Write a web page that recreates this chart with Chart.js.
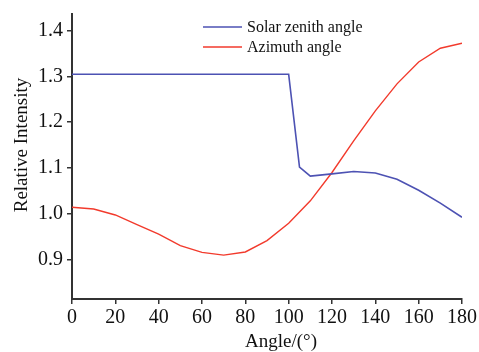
<!DOCTYPE html>
<html>
<head>
<meta charset="utf-8">
<script src="https://cdn.jsdelivr.net/npm/chart.js@4"></script>
<style>
  html, body { margin: 0; padding: 0; background: #fff; }
  #wrap { width: 479px; height: 352px; }
</style>
</head>
<body>
<div id="wrap"><canvas id="myChart" width="479" height="352"></canvas></div>
<script>
// datos
const angles = [0, 10, 20, 30, 40, 50, 60, 70, 80, 90, 100, 105, 110, 120, 130, 140, 150, 160, 170, 180];
const zenith = [1.305, 1.305, 1.305, 1.305, 1.305, 1.305, 1.305, 1.305, 1.305, 1.305, 1.305, 1.102, 1.082, 1.087, 1.092, 1.089, 1.075, 1.051, 1.023, 0.992];
const azimuthAngles = [0, 10, 20, 30, 40, 50, 60, 70, 80, 90, 100, 110, 120, 130, 140, 150, 160, 170, 180];
const azimuth = [1.014, 1.010, 0.997, 0.976, 0.955, 0.930, 0.915, 0.909, 0.916, 0.941, 0.979, 1.028, 1.090, 1.159, 1.225, 1.284, 1.332, 1.362, 1.373];
const yTicks = [0.9, 1.0, 1.1, 1.2, 1.3, 1.4];
const xTicks = [0, 20, 40, 60, 80, 100, 120, 140, 160, 180];
const seriesNames = ['Solar zenith angle', 'Azimuth angle'];
const xTitle = 'Angle/(°)';
const yTitle = 'Relative Intensity';

const font = 'Liberation Serif, Times New Roman, serif';
const axisColor = '#333';

const data = {
    datasets: [{
        label: seriesNames[0],
        data: angles.map((a, i) => ({x: a, y: zenith[i]})),
        borderColor: '#4d52b3',
        borderWidth: 1.6,
        pointRadius: 0,
        tension: 0
    }, {
        label: seriesNames[1],
        data: azimuthAngles.map((a, i) => ({x: a, y: azimuth[i]})),
        borderColor: '#f23a2c',
        borderWidth: 1.4,
        pointRadius: 0,
        tension: 0
    }]
};

// leyenda y titulos de ejes dibujados a mano
const extras = {
    id: 'extras',
    afterDraw(chart) {
        const ctx = chart.ctx;
        ctx.save();
        ctx.font = '16px ' + font;
        ctx.textBaseline = 'middle';
        chart.data.datasets.forEach((ds, i) => {
            const y = 27 + i * 20;
            ctx.strokeStyle = ds.borderColor;
            ctx.lineWidth = 1.5;
            ctx.beginPath();
            ctx.moveTo(203, y);
            ctx.lineTo(242, y);
            ctx.stroke();
            ctx.fillStyle = '#111';
            ctx.fillText(ds.label, 247, y + 1);
        });
        ctx.font = '19px ' + font;
        ctx.textAlign = 'center';
        ctx.textBaseline = 'alphabetic';
        ctx.fillText(xTitle, 281, 347);
        ctx.translate(27, 145);
        ctx.rotate(-Math.PI / 2);
        ctx.fillText(yTitle, 0, 0);
        ctx.restore();
    }
};

const options = {
    responsive: false,
    animation: false,
    layout: { padding: { top: 10, right: 17 } },
    plugins: {
        legend: { display: false },
        tooltip: { enabled: false }
    },
    scales: {
        x: {
            type: 'linear',
            min: 0,
            max: 180,
            afterBuildTicks: s => { s.ticks = xTicks.map(v => ({value: v})); },
            afterFit: s => { s.height = 53; s.paddingRight = 0; s.paddingLeft = 0; },
            grid: { drawOnChartArea: false, drawTicks: true, tickLength: 5, color: axisColor, lineWidth: 1.5 },
            border: { color: axisColor, width: 2 },
            ticks: { color: '#111', font: { family: font, size: 20, lineHeight: 1 }, padding: 4, maxRotation: 0 }
        },
        y: {
            min: 0.813,
            max: 1.437,
            afterBuildTicks: s => { s.ticks = yTicks.map(v => ({value: v})); },
            afterFit: s => { s.width = 72; },
            grid: { drawOnChartArea: false, drawTicks: true, tickLength: 5, color: axisColor, lineWidth: 1.5 },
            border: { color: axisColor, width: 2 },
            ticks: { color: '#111', font: { family: font, size: 20, lineHeight: 1 }, padding: 4, callback: v => v.toFixed(1) }
        }
    }
};

const config = {
    type: 'line',
    data,
    options,
    plugins: [extras]
};

const myChart = new Chart(document.getElementById('myChart').getContext('2d'), config);
</script>
</body>
</html>
